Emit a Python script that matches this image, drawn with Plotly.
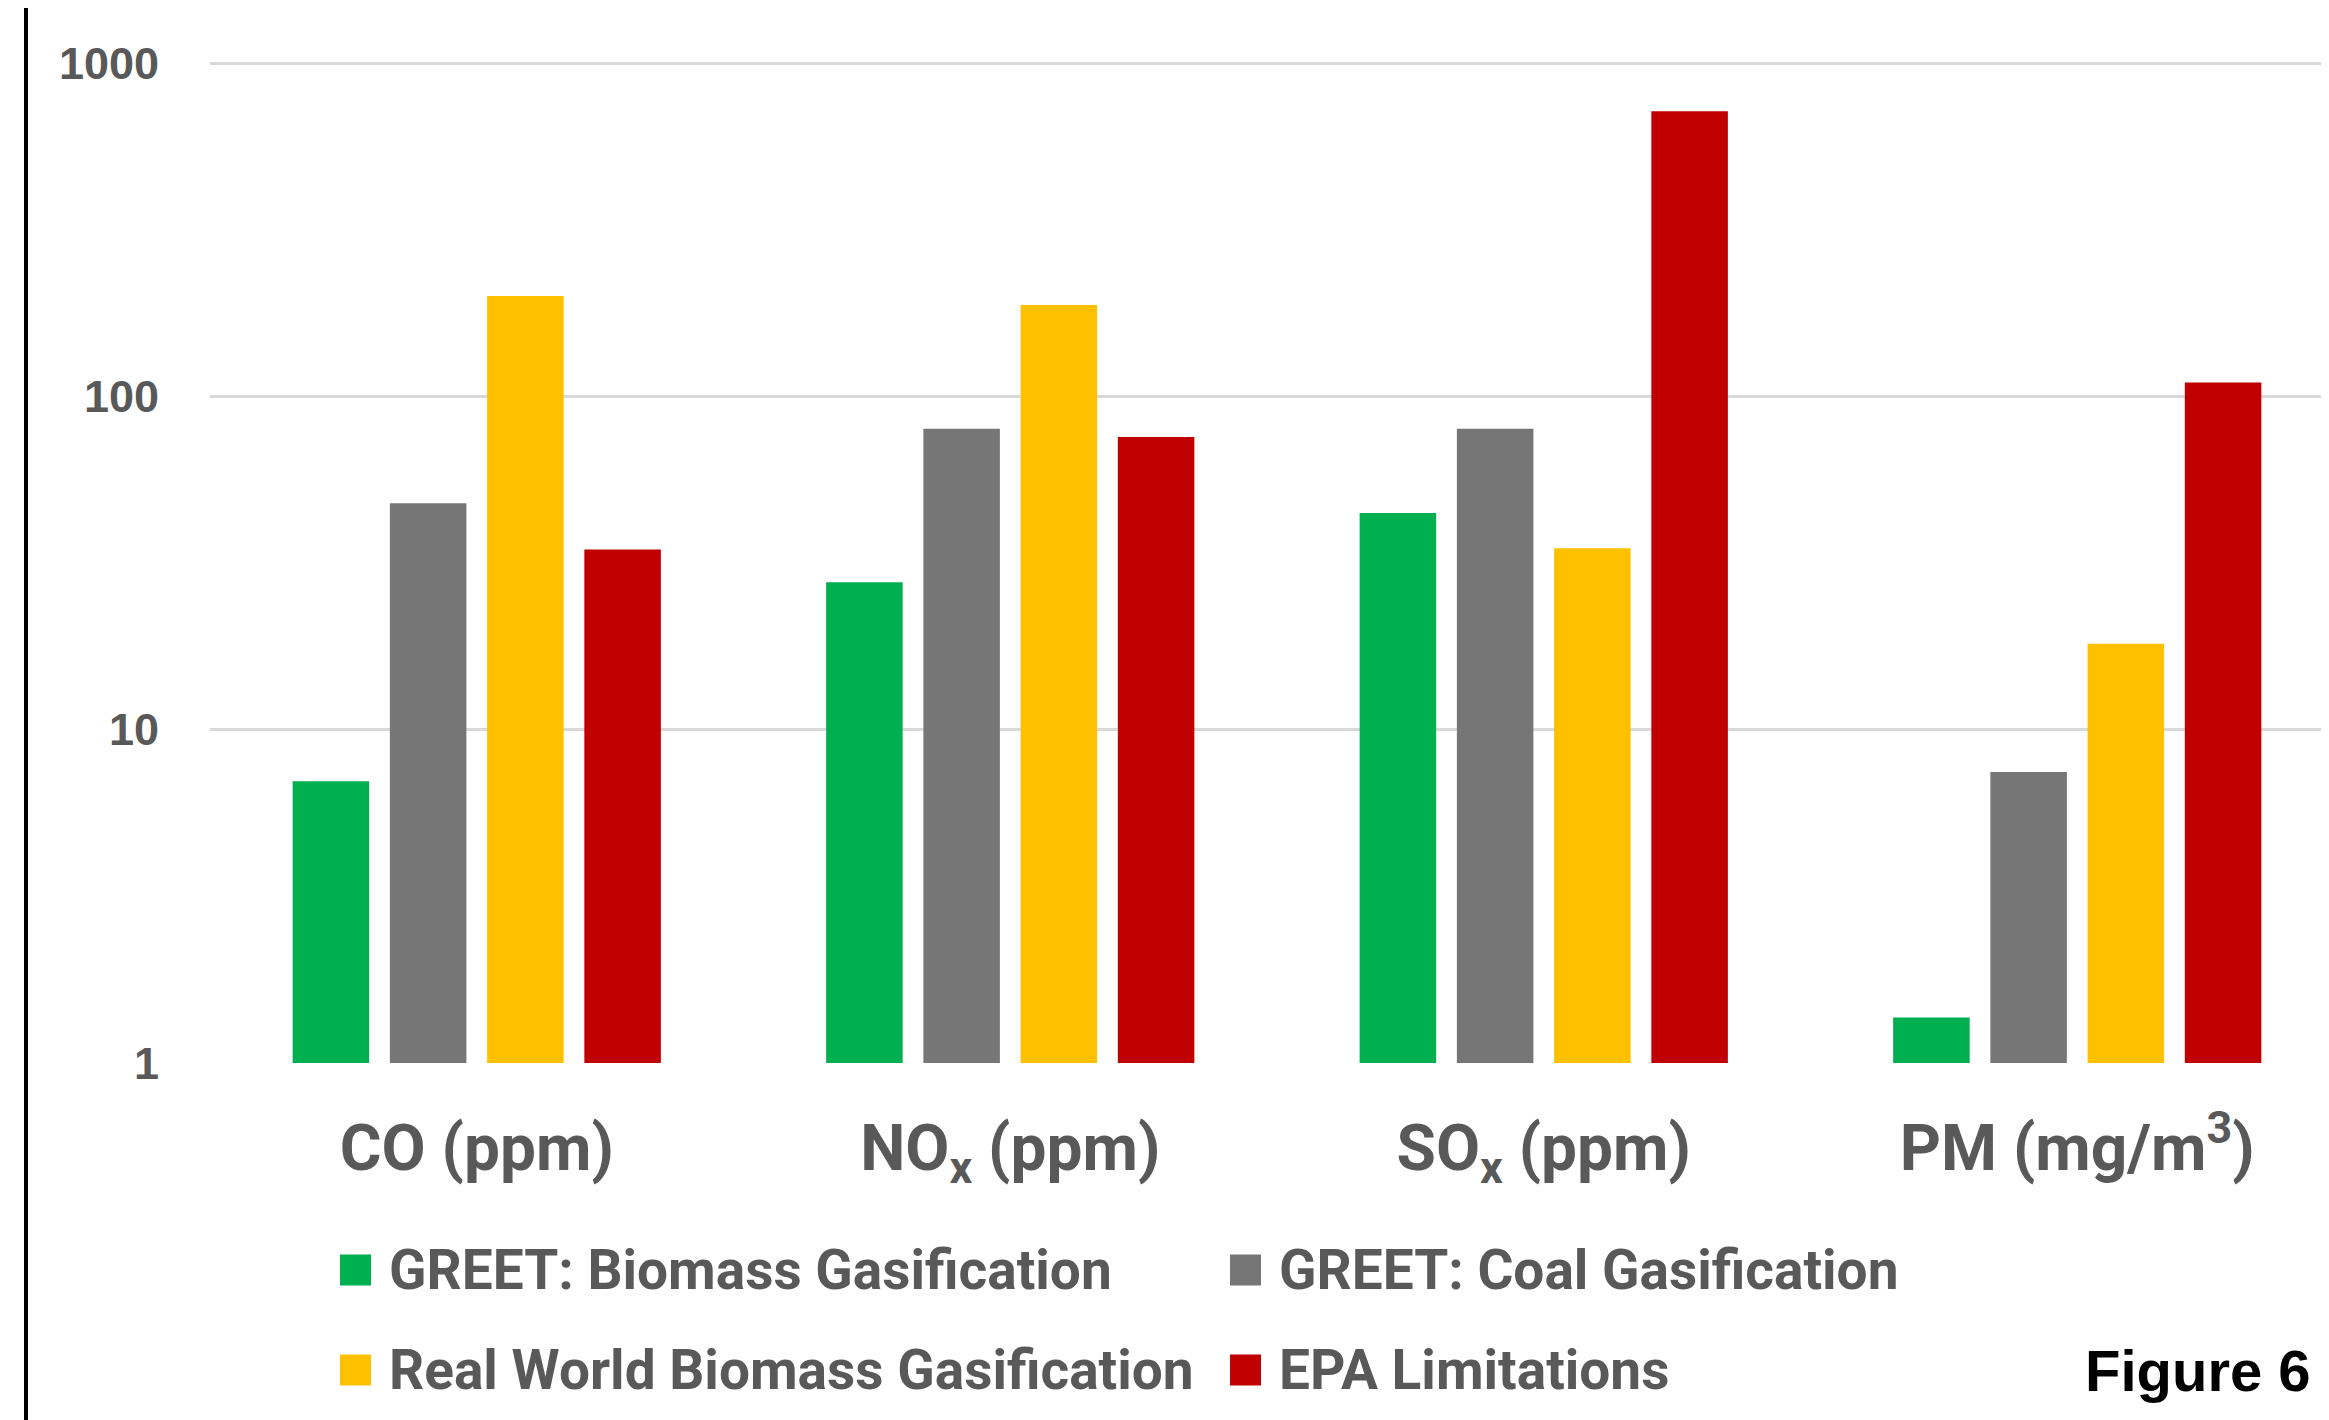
import plotly.graph_objects as go

# ---- data ----
categories = ["CO (ppm)", "NO<sub>x</sub> (ppm)", "SO<sub>x</sub> (ppm)", "PM (mg/m<sup>3</sup>)"]
series_names = ["GREET: Biomass Gasification", "GREET: Coal Gasification",
                "Real World Biomass Gasification", "EPA Limitations"]
greet_biomass = [7.0, 27.7, 44.7, 1.37]
greet_coal = [47.8, 80.0, 80.0, 7.46]
real_world_biomass = [200.0, 188.0, 35.0, 18.1]
epa_limits = [34.7, 75.5, 716.0, 110.0]
y_tick_vals = [1, 10, 100, 1000]
y_tick_text = ["1", "10", "100", "1000"]

series_values = [greet_biomass, greet_coal, real_world_biomass, epa_limits]
colors = ["#00B050", "#767676", "#FFC000", "#C00000"]

OFF = 8  # page body margin
DEC = 1000 / 3  # pixels per decade in the reference
YTOP = 3.015
W, H = 2329 - OFF, 1420 - OFF
ML, MR = 210 - OFF, 0
MT = round(63 - OFF - (YTOP - 3) * DEC)
MB = H - (1063 - OFF)
PW, PH = W - ML - MR, H - MT - MB
pitch = 533.5


def px_x(sx):
    return (sx - OFF - ML) / PW


def px_y(sy):
    return (H - MB - (sy - OFF)) / PH


fig = go.Figure()
for name, vals, col in zip(series_names, series_values, colors):
    fig.add_trace(go.Bar(x=list(range(len(categories))), y=vals, name=name,
                         marker=dict(color=col, line=dict(width=0)),
                         showlegend=False))

label_font = dict(family="Roboto, Liberation Sans, Arial", color="#595959", weight="bold")

fig.update_layout(
    width=W, height=H,
    margin=dict(l=ML, r=MR, t=MT, b=MB, autoexpand=False),
    paper_bgcolor="white", plot_bgcolor="white",
    barmode="group", bargap=0.271, bargroupgap=0.213,
    xaxis=dict(range=[-0.5, -0.5 + PW / pitch], tickvals=list(range(len(categories))),
               ticktext=categories, showgrid=False, zeroline=False, showline=False,
               ticks="", ticklabelstandoff=42, automargin=False,
               tickfont=dict(size=64, **label_font)),
    yaxis=dict(type="log", range=[0, YTOP], tickvals=y_tick_vals, ticktext=y_tick_text,
               showgrid=True, gridcolor="#D9D9D9", gridwidth=3, zeroline=False,
               showline=False, ticks="", ticklabelstandoff=50, automargin=False,
               tickfont=dict(size=45, family="Liberation Sans, Arial", color="#595959",
                             weight="bold")),
)

shapes = []
annotations = []
# left frame line
shapes.append(dict(type="line", xref="paper", yref="paper",
                   x0=px_x(26), x1=px_x(26), y0=px_y(1420), y1=px_y(0),
                   line=dict(color="black", width=4)))

# manual legend (2 x 2 grid)
leg_cols = [340, 1230]
leg_rows = [1270, 1370]
sq = 31
for i, (name, col) in enumerate(zip(series_names, colors)):
    cx = leg_cols[i % 2]
    cy = leg_rows[i // 2]
    shapes.append(dict(type="rect", xref="paper", yref="paper",
                       x0=px_x(cx), x1=px_x(cx + sq),
                       y0=px_y(cy + sq / 2), y1=px_y(cy - sq / 2),
                       fillcolor=col, line=dict(width=0)))
    annotations.append(dict(text=name, xref="paper", yref="paper",
                            x=px_x(cx + sq + 16), y=px_y(cy), xanchor="left",
                            yanchor="middle", showarrow=False,
                            font=dict(size=55, **label_font)))

annotations.append(dict(text="<b>Figure 6</b>", xref="paper", yref="paper",
                        x=px_x(2198), y=px_y(1370), xanchor="center", yanchor="middle",
                        showarrow=False,
                        font=dict(size=58, family="Liberation Sans, Arial", color="black")))

fig.update_layout(shapes=shapes, annotations=annotations)
fig.write_html("out.html")
